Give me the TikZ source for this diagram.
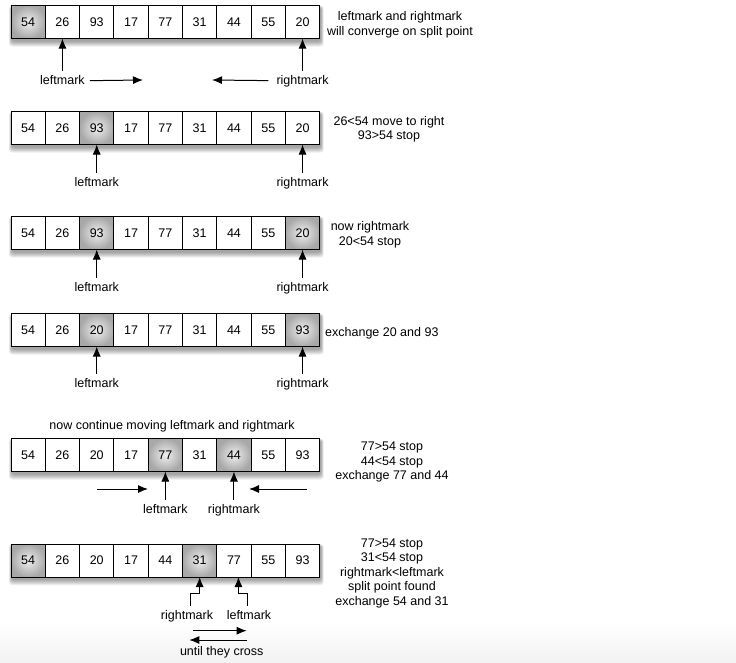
\documentclass[tikz,border=0pt]{standalone}
\usepackage{fontspec}
\setmainfont{Liberation Sans}
\usetikzlibrary{arrows.meta,backgrounds}

\tikzset{
  cell/.style={draw, line width=1pt, fill=white, minimum width=34.3pt,
    minimum height=33pt, inner sep=0pt, outer sep=0pt},
  hotcell/.style={shade, shading=radial, inner color=gray!12, outer color=black!34},
  lit/.code={\ifnum#1>0 \pgfkeysalso{/tikz/hotcell}\fi},
  lbl/.style={inner xsep=2pt, inner ysep=4pt, text height=9pt, text depth=2.5pt},
  note/.style={align=center, inner sep=0pt},
  arr/.style={line width=1pt, -{Latex[length=10pt,width=8pt]}},
}

% one row of the list, with its shadow
\newcommand{\qsrow}[3]{%
  \foreach \v/\h [count=\i] in {#3}
    \node[cell, lit=\h] (#1\i) at (-6.15+34.3*\i, #2) {\v};
  \begin{scope}[on background layer]
    \foreach \k in {1,...,6}
      \fill[black, opacity=0.07, rounded corners=3pt]
        ([shift={(1-0.5*\k, 2-0.3*\k)}]#11.north west) rectangle
        ([shift={(1+0.5*\k, 2+\k)}]#19.south east);
  \end{scope}}

\begin{document}
\begin{tikzpicture}[x=1pt, y=-1pt,
  every node/.style={font=\fontsize{12.5}{14.5}\selectfont}]
  \useasboundingbox (0,0) rectangle (736,662);
  \shade[top color=white, bottom color=black!5] (0,622) rectangle (736,662);

  % first row
  \qsrow{a}{22}{54/1,26/0,93/0,17/0,77/0,31/0,44/0,55/0,20/0}
  \node[lbl] (al) at (a2 |- 0,81) {leftmark};
  \node[lbl] (ar) at (a9 |- 0,81) {rightmark};
  \coordinate (ae) at (143,80);
  \coordinate (aw) at (212,80);
  \draw[arr] (al) -- (a2);
  \draw[arr] (ar) -- (a9);
  \draw[arr, shorten <=3pt] (al) -- (ae);
  \draw[arr, shorten <=6pt] (ar) -- (aw);
  \node[note, font=\fontsize{12.5}{15}\selectfont] (anote) at (400,24.5)
    {leftmark and rightmark\\will converge on split point};

  % second row
  \qsrow{b}{128}{54/0,26/0,93/1,17/0,77/0,31/0,44/0,55/0,20/0}
  \node[lbl] (bl) at (b3 |- 0,183) {leftmark};
  \node[lbl] (br) at (b9 |- 0,183) {rightmark};
  \draw[arr] (bl) -- (b3);
  \draw[arr] (br) -- (b9);
  \node[note] (bnote) at (389,129.5) {26<54 move to right\\93>54 stop};

  % third row
  \qsrow{c}{233}{54/0,26/0,93/1,17/0,77/0,31/0,44/0,55/0,20/1}
  \node[lbl] (cl) at (c3 |- 0,288) {leftmark};
  \node[lbl] (cr) at (c9 |- 0,288) {rightmark};
  \draw[arr] (cl) -- (c3);
  \draw[arr] (cr) -- (c9);
  \node[note] (cnote) at (370,235) {now rightmark\\20<54 stop};

  % fourth row
  \qsrow{d}{330}{54/0,26/0,20/1,17/0,77/0,31/0,44/0,55/0,93/1}
  \node[lbl] (dl) at (d3 |- 0,384) {leftmark};
  \node[lbl] (dr) at (d9 |- 0,384) {rightmark};
  \draw[arr] (dl) -- (d3);
  \draw[arr] (dr) -- (d9);
  \node[note, anchor=west] (dnote) at (325,333.3) {exchange 20 and 93};

  % fifth row
  \node[note] (ehead) at (172,426) {now continue moving leftmark and rightmark};
  \qsrow{e}{455}{54/0,26/0,20/0,17/0,77/1,31/0,44/1,55/0,93/0}
  \node[lbl] (el) at (e5 |- 0,510) {leftmark};
  \node[lbl] (er) at (e7 |- 0,510) {rightmark};
  \draw[arr] (el) -- (e5);
  \draw[arr] (er) -- (e7);
  \coordinate (e0) at (97,489);
  \coordinate (e1) at (148,489);
  \coordinate (e2) at (307,489);
  \coordinate (e3) at (249,489);
  \draw[arr] (e0) -- (e1);
  \draw[arr] (e2) -- (e3);
  \node[note] (enote) at (392,462) {77>54 stop\\44<54 stop\\exchange 77 and 44};

  % sixth row
  \qsrow{f}{560.5}{54/1,26/0,20/0,17/0,44/0,31/1,77/0,55/0,93/0}
  \node[lbl] (fr) at (187,616) {rightmark};
  \node[lbl] (fl) at (249,616) {leftmark};
  \draw[arr] ([xshift=3pt]fr.north) -- ++(0,-13) -| (f6.south);
  \draw[arr] ([xshift=-1.5pt]fl.north) -- ++(0,-13) -| ([xshift=4.5pt]f7.south);
  \coordinate (f0) at (193.3,630.7);
  \coordinate (f1) at (246.7,630.7);
  \coordinate (f2) at (246.7,640);
  \coordinate (f3) at (189.3,640);
  \draw[arr] (f0) -- (f1);
  \draw[arr] (f2) -- (f3);
  \node (fx) at (221.7,652) {until they cross};
  \node[note] (fnote) at (392,573)
    {77>54 stop\\31<54 stop\\rightmark<leftmark\\split point found\\exchange 54 and 31};
\end{tikzpicture}
\end{document}
